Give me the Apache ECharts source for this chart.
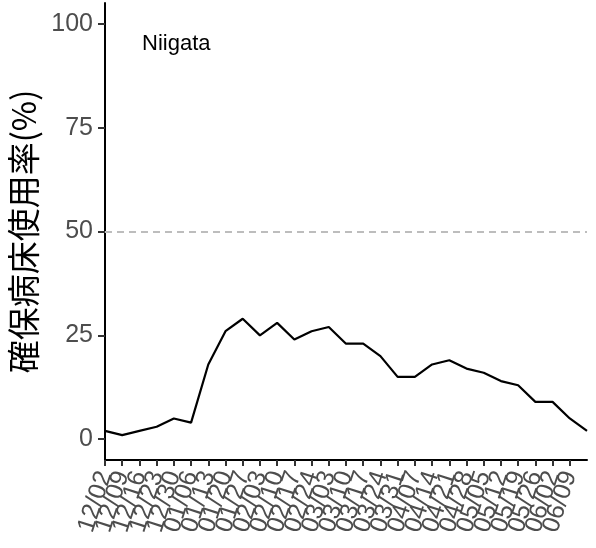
<!DOCTYPE html>
<html>
<head>
<meta charset="utf-8">
<script src="https://cdn.jsdelivr.net/npm/echarts@6/dist/echarts.min.js"></script>
<style>
  html, body { margin: 0; padding: 0; background: #fff; }
  #chart { width: 596px; height: 548px; }
</style>
</head>
<body>
<div id="chart"></div>
<script>
// Weekly dates (the last point has no tick label of its own)
const dates = ['12/02','12/09','12/16','12/23','12/30','01/06','01/13','01/20','01/27',
  '02/03','02/10','02/17','02/24','03/03','03/10','03/17','03/24','03/31','04/07',
  '04/14','04/21','04/28','05/05','05/12','05/19','05/26','06/02','06/09','06/16'];
// Bed occupancy rate (%) for Niigata
const occupancy = [2,1,2,3,5,4,18,26,29,25,28,24,26,27,23,23,20,15,15,18,19,17,16,14,13,9,9,5,2];
const yTicks = [0, 25, 50, 75, 100];
const threshold = 50;
const regionName = 'Niigata';
const yTitle = '確保病床使用率(%)';

// week index positions that carry a tick and a date label
const xTicks = dates.slice(0, dates.length - 1).map((d, i) => i);
const xEven = xTicks.filter((i) => i % 2 === 0);
const xOdd = xTicks.filter((i) => i % 2 === 1);
const points = occupancy.map((v, i) => [i, v]);

const labelStyle = {
  rotate: 72, margin: 12, color: '#4d4d4d', fontSize: 25,
  fontFamily: 'Liberation Sans, Arial, sans-serif',
  hideOverlap: false, showMinLabel: true, showMaxLabel: true,
  formatter: (v) => dates[Math.round(v)]
};

const chart = echarts.init(document.getElementById('chart'), null, { renderer: 'canvas' });
chart.setOption({
  animation: false,
  backgroundColor: '#ffffff',
  grid: { left: 105, right: 9, top: 3, bottom: 88, containLabel: false, outerBoundsMode: 'none' },
  title: {
    text: regionName, left: 142, top: 33, padding: 0,
    textStyle: { fontFamily: 'Liberation Sans, Arial, sans-serif', fontSize: 22, fontWeight: 'normal', color: '#000' }
  },
  xAxis: [{
    type: 'value',
    min: 0, max: dates.length - 1,
    position: 'bottom',
    axisLine: { show: true, onZero: false, lineStyle: { color: '#000', width: 2 } },
    axisTick: { show: true, length: 6, lineStyle: { color: '#333', width: 2 }, customValues: xTicks },
    axisLabel: Object.assign({}, labelStyle, { customValues: xEven }),
    splitLine: { show: false }
  }, {
    type: 'value',
    min: 0, max: dates.length - 1,
    position: 'bottom',
    offset: 0,
    axisLine: { show: false, onZero: false },
    axisTick: { show: false },
    axisLabel: Object.assign({}, labelStyle, { customValues: xOdd }),
    splitLine: { show: false }
  }],
  yAxis: {
    type: 'value',
    min: -5, max: 105,
    name: yTitle,
    nameLocation: 'middle',
    nameGap: 65,
    nameRotate: 90,
    nameTextStyle: { fontFamily: 'Noto Sans CJK JP, sans-serif', fontSize: 33, color: '#000' },
    axisLine: { show: true, lineStyle: { color: '#000', width: 2 } },
    axisTick: { show: true, length: 7, lineStyle: { color: '#333', width: 2 }, customValues: yTicks },
    axisLabel: {
      color: '#4d4d4d', fontSize: 25, margin: 12,
      fontFamily: 'Liberation Sans, Arial, sans-serif',
      customValues: yTicks
    },
    splitLine: { show: false }
  },
  series: [{
    type: 'line',
    xAxisIndex: 0,
    data: points,
    symbol: 'none',
    lineStyle: { color: '#000', width: 2.2 },
    markLine: {
      silent: true, symbol: 'none', label: { show: false },
      lineStyle: { color: '#bdbdbd', type: [7, 5], width: 1.8 },
      data: [{ yAxis: threshold }]
    }
  }]
});
</script>
</body>
</html>
